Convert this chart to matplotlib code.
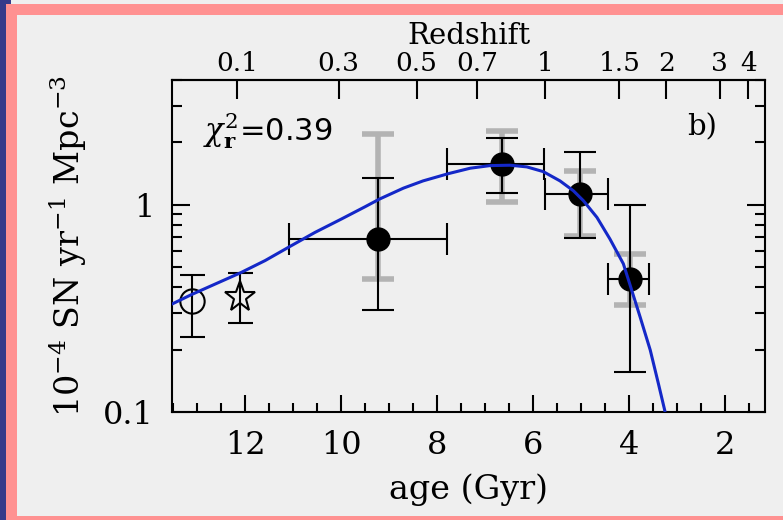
import matplotlib
matplotlib.use("Agg")
import matplotlib.pyplot as plt
import numpy as np
from matplotlib.patches import Rectangle
from matplotlib.ticker import MultipleLocator, FixedLocator, NullFormatter, NullLocator, LogLocator, FixedFormatter

# model curve (age in Gyr, rate in 1e-4 SN/yr/Mpc^3)
curve_age = [13.53, 13.11, 12.09, 11.58, 11.06, 10.54, 9.99, 9.50, 9.20, 8.70, 8.29,
             7.76, 7.31, 6.90, 6.48, 6.13, 5.79, 5.44, 5.16, 4.95, 4.67, 4.40, 4.12,
             3.98, 3.77, 3.56, 3.39, 3.25]
curve_rate = [0.331, 0.369, 0.470, 0.538, 0.630, 0.736, 0.854, 0.978, 1.065, 1.203, 1.304,
              1.414, 1.501, 1.545, 1.552, 1.523, 1.446, 1.304, 1.168, 1.045, 0.869, 0.684,
              0.519, 0.410, 0.287, 0.199, 0.137, 0.100]

# local points: open circle and star
circ_age, circ_rate, circ_lo, circ_hi = 13.11, 0.345, 0.229, 0.460
star_age, star_rate, star_lo, star_hi = 12.10, 0.358, 0.269, 0.467

# filled points
pt_age = [9.22, 6.65, 5.03, 3.99]
pt_rate = [0.684, 1.565, 1.133, 0.439]
pt_age_old = [11.08, 7.79, 5.76, 4.44]
pt_age_young = [7.79, 5.77, 4.44, 3.58]
stat_lo = [0.312, 1.146, 0.692, 0.156]
stat_hi = [1.353, 2.10, 1.80, 1.00]
sys_lo = [0.436, 1.034, 0.71, 0.330]
sys_hi = [2.20, 2.27, 1.46, 0.580]

z_ticks = [0.1, 0.3, 0.5, 0.7, 1, 1.5, 2, 3, 4]
z_labels = ["0.1", "0.3", "0.5", "0.7", "1", "1.5", "2", "3", "4"]

# flat LCDM, H0=70, Om=0.3 -> age (Gyr) vs redshift for the top axis
A_T = 2 * 13.968 / (3 * np.sqrt(0.7))
B_T = np.sqrt(0.7 / 0.3)


def age_from_z(z):
    z = np.clip(np.asarray(z, dtype=float), -0.99, None)
    return A_T * np.arcsinh(B_T * (1 + z) ** -1.5)


def z_from_age(t):
    t = np.clip(np.asarray(t, dtype=float), 0.05, None)
    return (np.sinh(t / A_T) / B_T) ** (-2.0 / 3.0) - 1


plt.rcParams["font.family"] = "DejaVu Serif"
plt.rcParams["mathtext.fontset"] = "dejavuserif"

W, H = 783, 520
fig = plt.figure(figsize=(W / 100, H / 100), dpi=100, facecolor="#efefef")

# frame decoration
pink = "#ff9191"
blue = "#353a8a"
for (x0, y0, w, h, c) in [
    (0, 0, 6, H, blue),
    (0, H - 4, 11, 4, blue),
    (6, 0, 11, H - 4, pink),
    (6, H - 15, W, 11, pink),
    (6, 0, W, 4, pink),
]:
    fig.add_artist(Rectangle((x0 / W, y0 / H), w / W, h / H, transform=fig.transFigure,
                             facecolor=c, edgecolor="none", zorder=0))

ax = fig.add_axes([172 / W, 108 / H, 593 / W, 332 / H])
ax.set_facecolor("#efefef")

# systematic (gray) error bars underneath
ax.errorbar(pt_age, pt_rate,
            yerr=[np.subtract(pt_rate, sys_lo), np.subtract(sys_hi, pt_rate)],
            fmt="none", ecolor="#b3b3b3", elinewidth=4, capsize=11.5, capthick=4, zorder=1)

# statistical (black) error bars with age ranges
ax.errorbar(pt_age, pt_rate,
            xerr=[np.subtract(pt_age, pt_age_young), np.subtract(pt_age_old, pt_age)],
            yerr=[np.subtract(pt_rate, stat_lo), np.subtract(stat_hi, pt_rate)],
            fmt="o", color="black", ms=16.5, ecolor="black", elinewidth=1.5,
            capsize=11.5, capthick=1.5, zorder=2)

ax.errorbar([circ_age], [circ_rate], yerr=[[circ_rate - circ_lo], [circ_hi - circ_rate]],
            fmt="o", mfc="none", mec="black", mew=1.5, ms=17.5, ecolor="black",
            elinewidth=1.5, capsize=9, capthick=1.5, zorder=2)
ax.errorbar([star_age], [star_rate], yerr=[[star_rate - star_lo], [star_hi - star_rate]],
            fmt="*", mfc="none", mec="black", mew=1.5, ms=23, ecolor="black",
            elinewidth=1.5, capsize=9, capthick=1.5, zorder=2)

ax.plot(curve_age, curve_rate, color="#1428c8", lw=2.2, zorder=4,
        solid_joinstyle="round", solid_capstyle="butt")

ax.set_yscale("log")
ax.set_xlim(13.52, 1.17)
ax.set_ylim(0.1, 4.0)

ax.xaxis.set_major_locator(MultipleLocator(2))
ax.xaxis.set_minor_locator(MultipleLocator(0.5))
ax.yaxis.set_major_locator(FixedLocator([0.1, 1]))
ax.yaxis.set_major_formatter(FixedFormatter(["0.1", "1"]))
ax.yaxis.set_minor_locator(LogLocator(base=10, subs=np.arange(2, 10)))
ax.yaxis.set_minor_formatter(NullFormatter())

ax.tick_params(axis="both", which="both", direction="in", width=1.5, colors="black")
ax.tick_params(axis="x", which="major", length=12, labelsize=23, pad=13, top=False)
ax.tick_params(axis="x", which="minor", length=6.5, top=False)
ax.tick_params(axis="y", which="major", length=13, labelsize=23, pad=13, right=True)
ax.tick_params(axis="y", which="minor", length=7, right=True)
for sp in ax.spines.values():
    sp.set_linewidth(1.5)

ax.set_xlabel("age (Gyr)", fontsize=24, labelpad=9)
ax.set_ylabel(r"10$^{-4}$ SN yr$^{-1}$ Mpc$^{-3}$", fontsize=24, labelpad=10)

sec = ax.secondary_xaxis("top", functions=(z_from_age, age_from_z))
sec.xaxis.set_major_locator(FixedLocator(z_ticks))
sec.xaxis.set_major_formatter(FixedFormatter(z_labels))
sec.xaxis.set_minor_locator(NullLocator())
sec.tick_params(axis="x", which="major", direction="in", length=14, width=1.5,
                labelsize=19, pad=3)
sec.spines["top"].set_linewidth(1.5)
sec.set_xlabel("Redshift", fontsize=21, labelpad=5)

ax.text(0.052, 0.819, r"$\chi^{2}_{\mathbf{r}}$=0.39", transform=ax.transAxes,
        fontsize=22, family="DejaVu Sans", ha="left", va="baseline")
ax.text(0.919, 0.834, "b)", transform=ax.transAxes, fontsize=21, ha="right", va="baseline")

fig.savefig("out.png", dpi=100, facecolor=fig.get_facecolor())
